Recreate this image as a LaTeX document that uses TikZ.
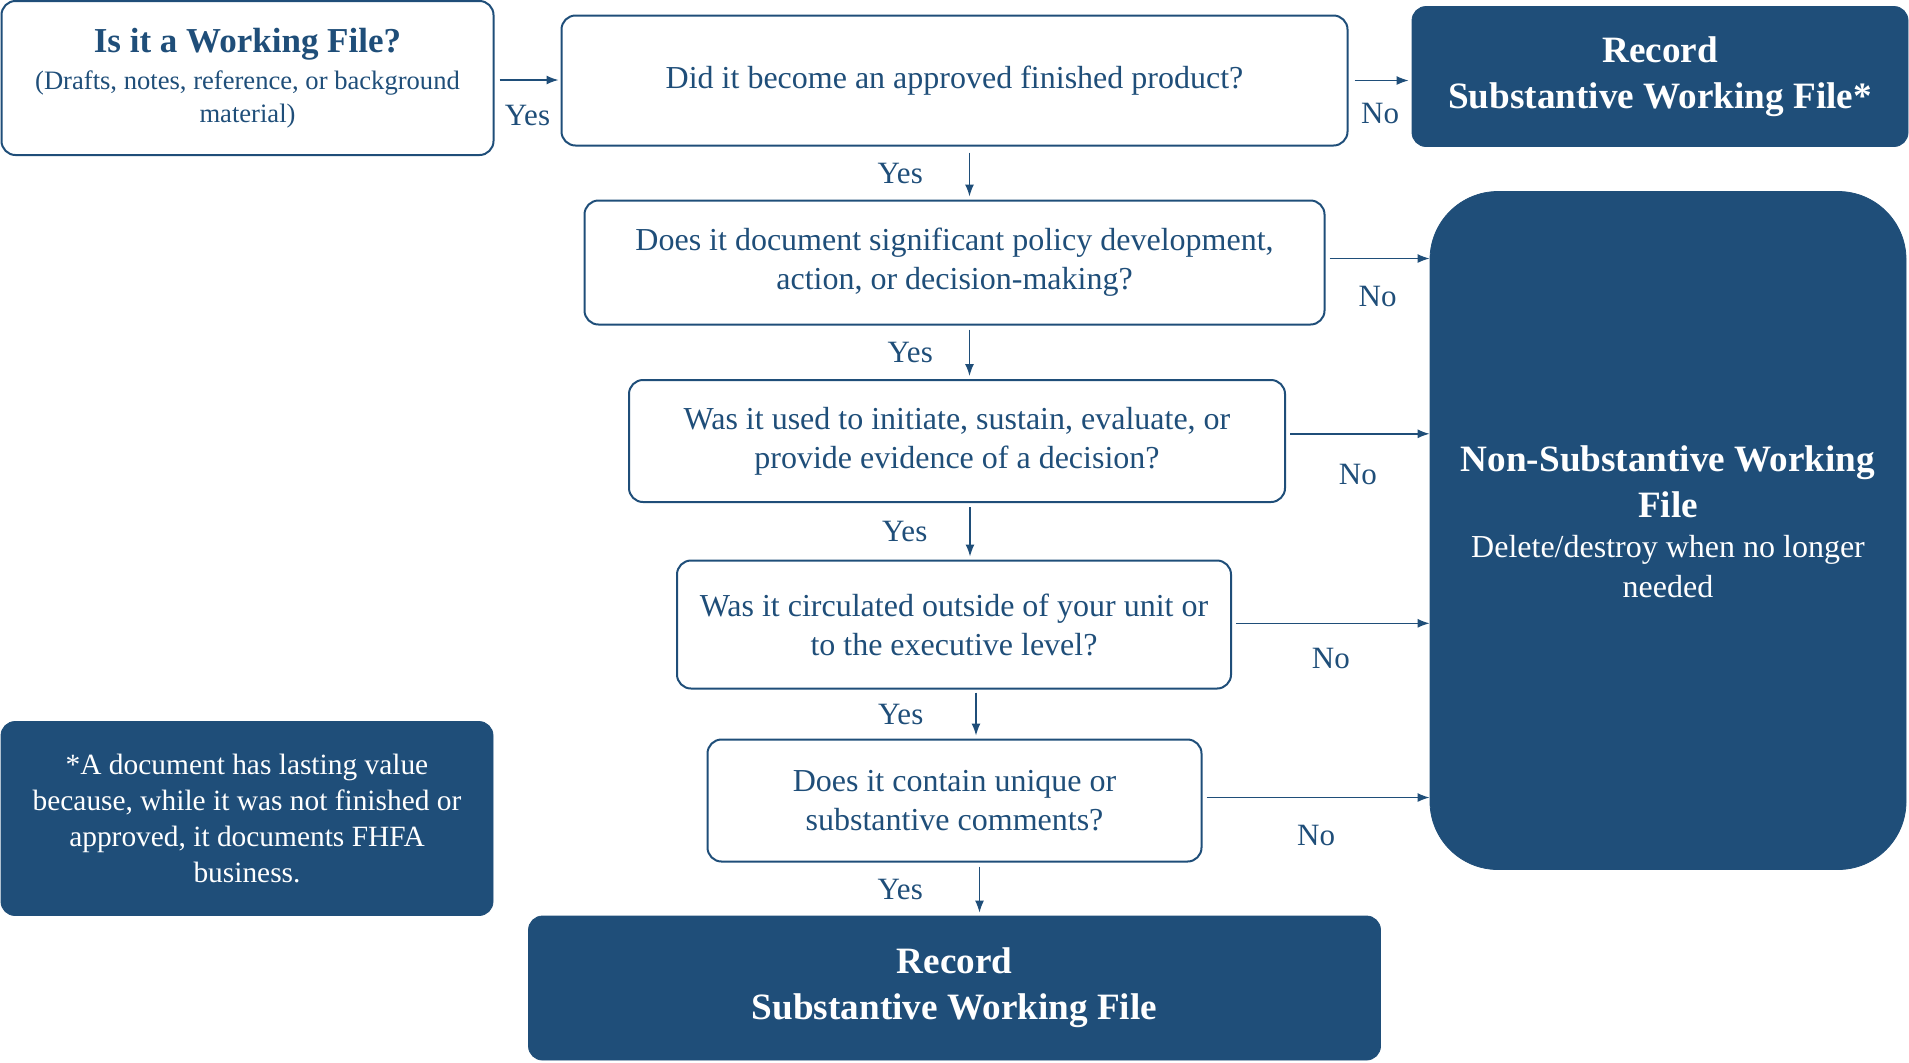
\documentclass[tikz,border=0pt]{standalone}
\usepackage{fontspec}
\setmainfont{Liberation Serif}
\usepackage{xcolor}
\usepackage{tikz}
\usetikzlibrary{arrows}
\usetikzlibrary{arrows.meta}
\definecolor{fhfablue}{RGB}{31,78,121}
\tikzset{
	qbox/.style={rectangle,rounded corners=7pt,draw=fhfablue,line width=1pt,text=fhfablue,
		align=center,font=\fontsize{16}{19.5}\selectfont},
	recbox/.style={rectangle,rounded corners=7pt,fill=fhfablue,draw=fhfablue,text=white,
		align=center,font=\bfseries\fontsize{18.6}{23}\selectfont},
	lbl/.style={text=fhfablue,font=\fontsize{15.5}{18}\selectfont,inner sep=1pt},
	arr/.style={-{Latex[length=6pt,width=4.5pt]},draw=fhfablue,line width=0.7pt}
}
\newcommand{\subtxt}[1]{{\fontsize{13.3}{17}\selectfont #1}}

\begin{document}
\begin{tikzpicture}[x=0.5pt,y=-0.5pt]
	\useasboundingbox (0,0) rectangle (1909,1062);
	% question boxes
	\node [qbox,minimum width=246pt,minimum height=77pt] (start) at (247.5,78)
		{\textbf{\fontsize{17.5}{22}\selectfont Is it a Working File?}\\[-1pt]
		 \subtxt{(Drafts, notes, reference, or background}\\[-3pt]
		 \subtxt{material)}};
	\node [qbox,minimum width=393pt,minimum height=65pt] (q1) at (954.5,80.5)
		{Did it become an approved finished product?};
	\node [qbox,minimum width=370pt,minimum height=62pt] (q2) at (954.5,262.5)
		{Does it document significant policy development,\\ action, or decision-making?};
	\node [qbox,minimum width=328pt,minimum height=61pt] (q3) at (957,441)
		{Was it used to initiate, sustain, evaluate, or\\ provide evidence of a decision?};
	\node [qbox,minimum width=277pt,minimum height=64pt] (q4) at (954,624.5)
		{Was it circulated outside of your unit or\\ to the executive level?};
	\node [qbox,minimum width=247pt,minimum height=61pt] (q5) at (954.5,800.5)
		{Does it contain unique or\\ substantive comments?};
	% outcome boxes
	\node [recbox,minimum width=248pt,minimum height=70pt] (rec1) at (1660,76.5)
		{Record\\ Substantive Working File*};
	\node [recbox,minimum width=426pt,minimum height=72pt] (rec2) at (954.5,988)
		{Record\\ Substantive Working File};
	\node [recbox,rounded corners=34pt,minimum width=238pt,minimum height=339pt] (nonsub) at (1668,530.5)
		{Non-Substantive Working\\ File\\[-3pt]
		 {\mdseries\fontsize{16}{20}\selectfont Delete/destroy when no longer}\\[-3pt]
		 {\mdseries\fontsize{16}{20}\selectfont needed}\\[-14pt]};
	\node [recbox,minimum width=246pt,minimum height=97pt,font=\fontsize{14.7}{18}\selectfont] (note) at (247,818.5)
		{*A document has lasting value\\ because, while it was not finished or\\
		 approved, it documents FHFA\\ business.};

	\draw [arr,shorten <=2.5pt,shorten >=1pt] (start.east |- 0,80) -- node[lbl,below=11pt] {Yes} (q1.west |- 0,80);
	\draw [arr,shorten <=3pt,shorten >=1.5pt] (q1.east) -- node[lbl,below=10pt] {No} (q1.east -| rec1.west);
	\draw [arr,shorten <=3pt,shorten >=1.5pt] ([xshift=7.5pt]q1.south) -- node[lbl,left=22pt] {Yes} ([xshift=7.5pt]q1.south |- q2.north);
	\draw [arr,shorten <=2pt,shorten >=1.5pt] ([xshift=7.5pt]q2.south) -- node[lbl,left=17pt] {Yes} ([xshift=7.5pt]q2.south |- q3.north);
	\draw [arr,shorten <=2pt,shorten >=1.5pt] ([xshift=6.5pt]q3.south) -- node[lbl,left=20pt] {Yes} ([xshift=6.5pt]q3.south |- q4.north);
	\draw [arr,shorten <=1.5pt,shorten >=1.5pt] ([xshift=11pt]q4.south) -- node[lbl,left=25pt] {Yes} ([xshift=11pt]q4.south |- q5.north);
	\draw [arr,shorten <=2pt,shorten >=1.5pt] ([xshift=12.5pt]q5.south) -- node[lbl,left=27pt] {Yes} ([xshift=12.5pt]q5.south |- rec2.north);
	\foreach \q/\dy/\sp in {q2/2/12.5,q3/3.6/14,q4/0.6/11,q5/1.5/12.5}
		\draw [arr,shorten <=2pt] ([yshift=\dy pt]\q.east) -- node[lbl,below=\sp pt] {No} ([yshift=\dy pt]\q.east -| nonsub.west);
\end{tikzpicture}
\end{document}
